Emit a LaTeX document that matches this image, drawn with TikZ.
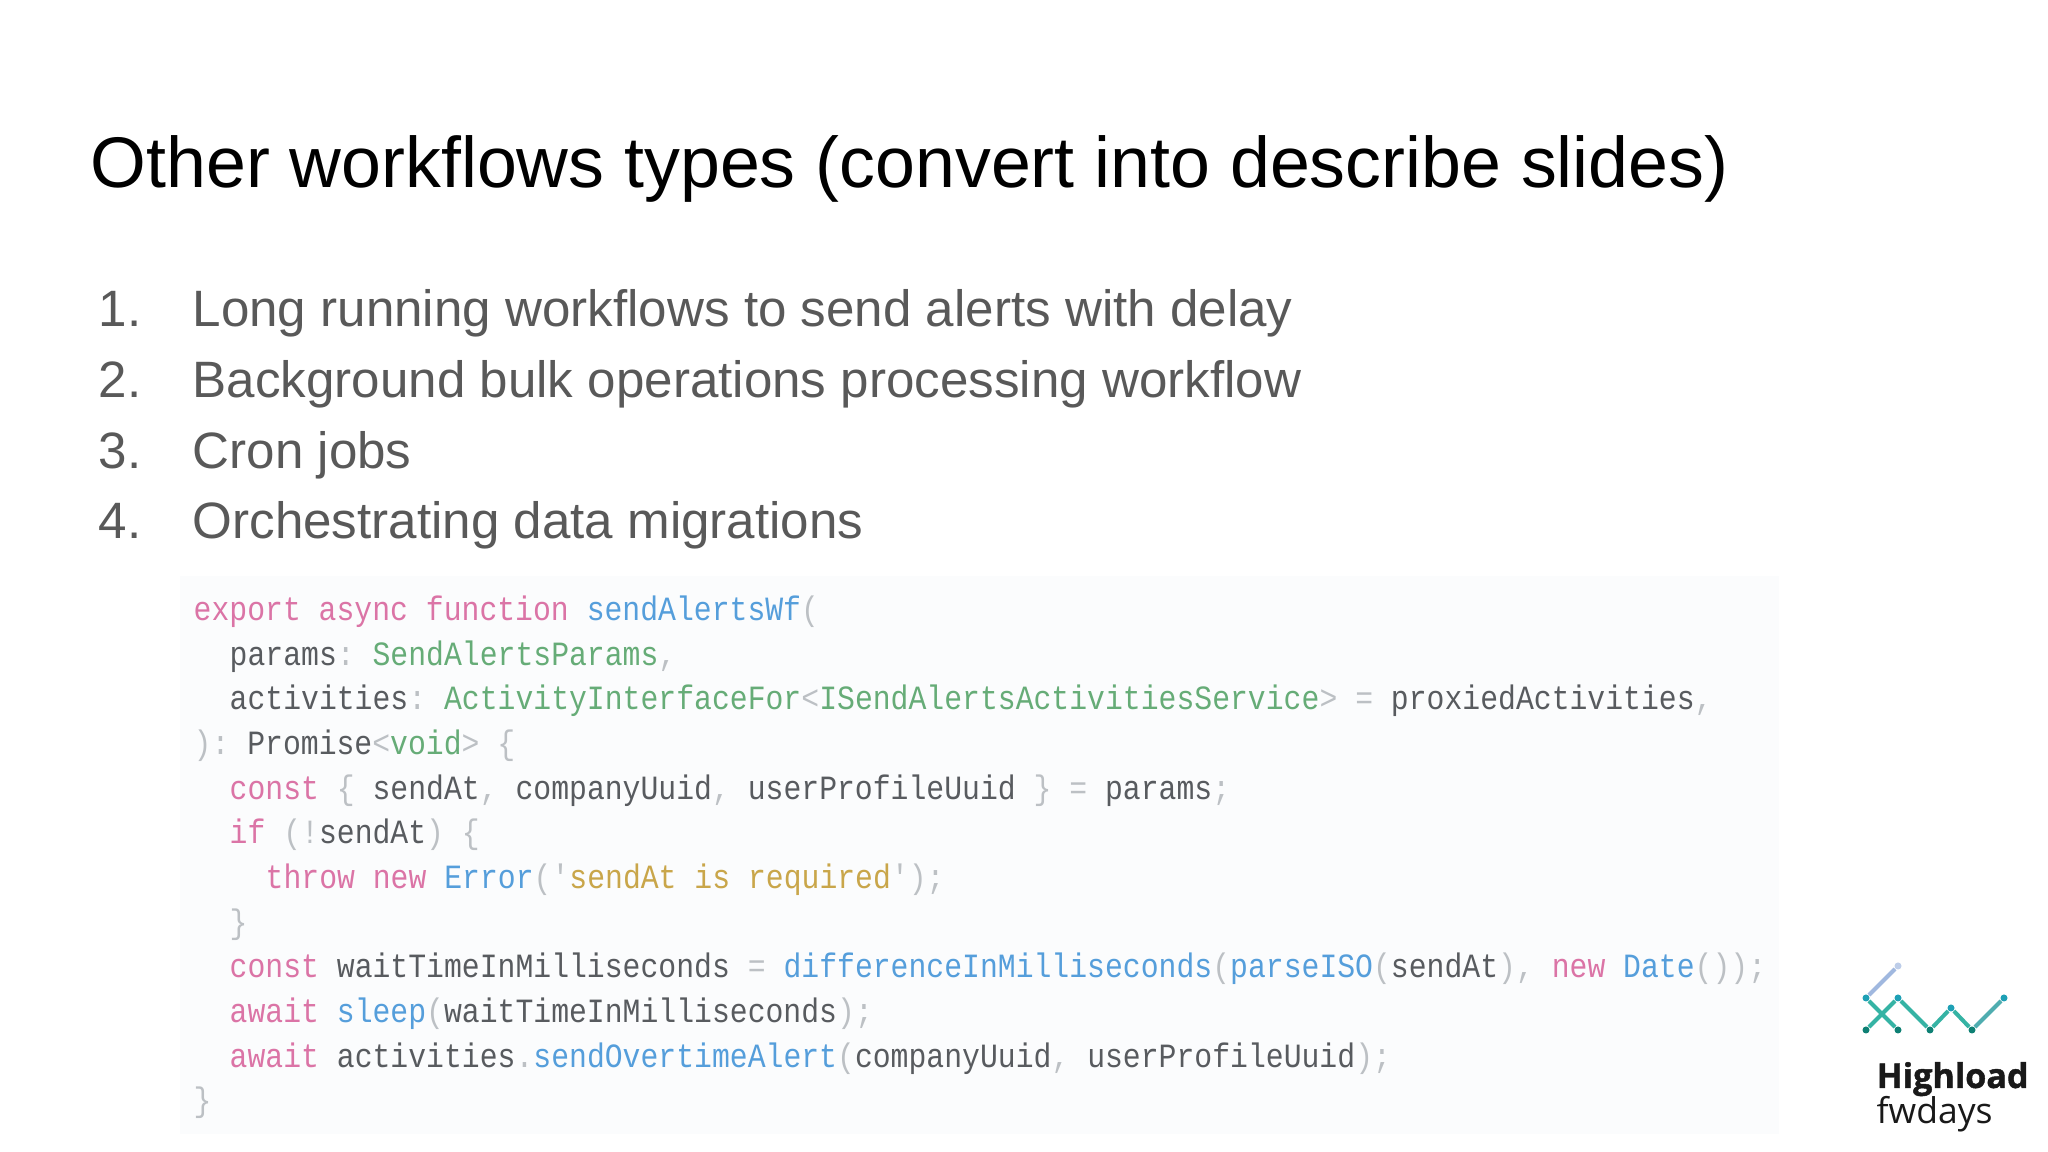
\documentclass[tikz,border=0pt]{standalone}
\usepackage{fontspec}
\setmainfont{Liberation Sans}
\newfontfamily\codefont[FakeStretch=0.876]{Liberation Mono}
\newfontfamily\logofont[BoldFeatures={FakeBold=1.2}]{Open Sans}
\frenchspacing
\definecolor{slidegray}{HTML}{595959}
\definecolor{codebg}{HTML}{FBFCFD}
\definecolor{codeink}{HTML}{585B5F}
\definecolor{codepunct}{HTML}{BCC0C4}
\definecolor{codekey}{HTML}{DB74A6}
\definecolor{codefun}{HTML}{559EDB}
\definecolor{codetype}{HTML}{66AC77}
\definecolor{codestr}{HTML}{C9A64A}
\definecolor{logoblue}{HTML}{A0B8DF}
\definecolor{logoteal}{HTML}{35B3A4}
\definecolor{logosea}{HTML}{4FADB0}
\definecolor{logodark}{HTML}{0E8074}
\definecolor{logocyan}{HTML}{1EA0B5}
\newcommand{\kw}[1]{\textcolor{codekey}{#1}}
\newcommand{\fn}[1]{\textcolor{codefun}{#1}}
\newcommand{\ty}[1]{\textcolor{codetype}{#1}}
\newcommand{\st}[1]{\textcolor{codestr}{#1}}
\newcommand{\pu}[1]{\textcolor{codepunct}{#1}}
\tikzset{
  slidetitle/.style={anchor=base west,inner sep=0pt,font=\fontsize{20.4pt}{24pt}\selectfont},
  listline/.style={anchor=base west,inner sep=0pt,text=slidegray,font=\fontsize{14.55pt}{18pt}\selectfont},
  codeline/.style={anchor=base west,inner sep=0pt,text=codeink,font=\codefont\fontsize{9.67pt}{12pt}\selectfont},
  logodot/.style={circle,inner sep=0pt,minimum size=0.07cm,fill=#1},
  logoline/.style={line width=0.04cm,#1},
  logotext/.style={anchor=base west,inner sep=0pt,text=black!90},
}
\begin{document}
\begin{tikzpicture}
\useasboundingbox (0,0) rectangle (20.48,11.52);
\fill[white] (0,0) rectangle (20.48,11.52);

% title
\node[slidetitle] (title) at (0.90,9.64) {Other workflows types (convert into describe slides)};

% list
\node[listline] (num1) at (0.98,8.25) {1.};
\node[listline] (item1) at (1.92,8.25) {Long running workflows to send alerts with delay};
\node[listline] (num2) at (0.98,7.54) {2.};
\node[listline] (item2) at (1.92,7.54) {Background bulk operations processing workflow};
\node[listline] (num3) at (0.98,6.83) {3.};
\node[listline] (item3) at (1.92,6.83) {Cron jobs};
\node[listline] (num4) at (0.98,6.13) {4.};
\node[listline] (item4) at (1.92,6.13) {Orchestrating data migrations};

% code panel
\fill[codebg] (1.80,0.18) rectangle (17.79,5.76);

\node[codeline] (code1) at (1.93,5.31) {\kw{export async function} \fn{sendAlertsWf}\pu{(}};
\node[codeline] (code2) at (2.29,4.86) {params\pu{:} \ty{SendAlertsParams}\pu{,}};
\node[codeline] (code3) at (2.29,4.42) {activities\pu{:} \ty{ActivityInterfaceFor}\pu{<}\ty{ISendAlertsActivitiesService}\pu{>} \pu{=} proxiedActivities\pu{,}};
\node[codeline] (code4) at (1.93,3.97) {\pu{):} Promise\pu{<}\ty{void}\pu{>} \pu{\{}};
\node[codeline] (code5) at (2.29,3.52) {\kw{const} \pu{\{} sendAt\pu{,} companyUuid\pu{,} userProfileUuid \pu{\}} \pu{=} params\pu{;}};
\node[codeline] (code6) at (2.29,3.08) {\kw{if} \pu{(!}sendAt\pu{)} \pu{\{}};
\node[codeline] (code7) at (2.65,2.63) {\kw{throw new} \fn{Error}\pu{('}\st{sendAt is required}\pu{');}};
\node[codeline] (code8) at (2.29,2.18) {\pu{\}}};
\node[codeline] (code9) at (2.29,1.74) {\kw{const} waitTimeInMilliseconds \pu{=} \fn{differenceInMilliseconds}\pu{(}\fn{parseISO}\pu{(}sendAt\pu{),} \kw{new} \fn{Date}\pu{());}};
\node[codeline] (code10) at (2.29,1.29) {\kw{await} \fn{sleep}\pu{(}waitTimeInMilliseconds\pu{);}};
\node[codeline] (code11) at (2.29,0.84) {\kw{await} activities\pu{.}\fn{sendOvertimeAlert}\pu{(}companyUuid\pu{,} userProfileUuid\pu{);}};
\node[codeline] (code12) at (1.93,0.40) {\pu{\}}};

% logo
\node[logodot=logoblue!70] (top) at (18.98,1.86) {};
\node[logodot=logocyan] (a) at (18.66,1.54) {};
\node[logodot=logocyan] (b) at (18.98,1.54) {};
\node[logodot=logodark] (c) at (18.66,1.22) {};
\node[logodot=logodark] (d) at (18.98,1.22) {};
\node[logodot=logodark] (e) at (19.30,1.22) {};
\node[logodot=logocyan] (f) at (19.51,1.44) {};
\node[logodot=logodark] (g) at (19.72,1.22) {};
\node[logodot=logocyan] (h) at (20.04,1.54) {};
\draw[logoline=logoblue] (top) -- (a);
\draw[logoline=logoteal] (a) -- (d);
\draw[logoline=logoteal] (c) -- (b);
\draw[logoline=logoteal] (b) -- (e);
\draw[logoline=logoteal] (e) -- (f);
\draw[logoline=logoteal] (f) -- (g);
\draw[logoline=logosea] (g) -- (h);

\node[logotext,font=\logofont\bfseries\fontsize{9.7pt}{12pt}\selectfont] (high) at (18.76,0.64) {Highload};
\node[logotext,font=\logofont\fontsize{10.1pt}{12pt}\selectfont] (fw) at (18.76,0.28) {fwdays};

\end{tikzpicture}
\end{document}
